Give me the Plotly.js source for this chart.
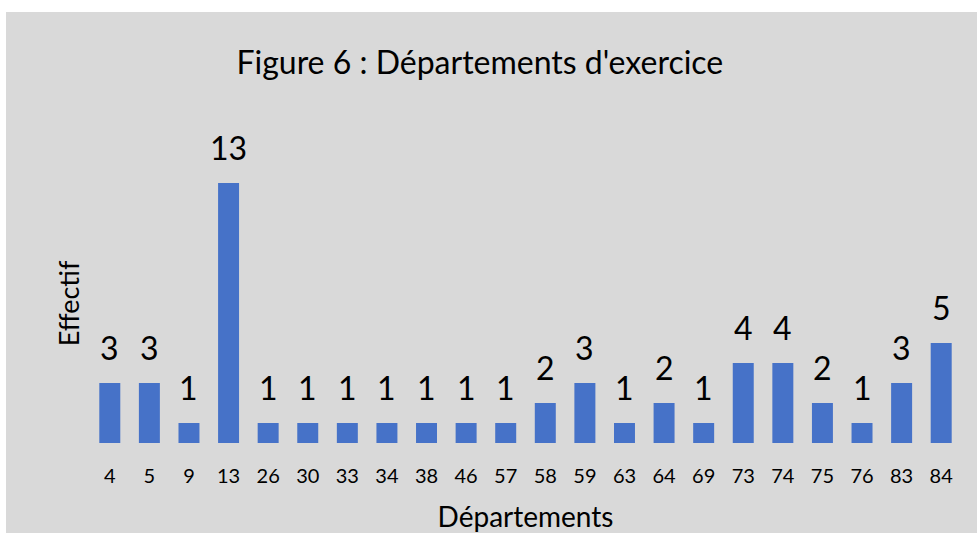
<!DOCTYPE html>
<html>
<head>
<meta charset="utf-8">
<script src="https://cdn.plot.ly/plotly-3.0.1.min.js"></script>
<style>
html,body{margin:0;padding:0;background:#ffffff;width:977px;height:533px;overflow:hidden;}
#chart{position:absolute;left:6px;top:12px;width:971px;height:521px;}
</style>
</head>
<body>
<div id="chart"></div>
<script>
const departements = ["4","5","9","13","26","30","33","34","38","46","57","58","59","63","64","69","73","74","75","76","83","84"];
const effectifs = [3,3,1,13,1,1,1,1,1,1,1,2,3,1,2,1,4,4,2,1,3,5];

const FONT = "Lato, 'Open Sans', sans-serif";

const trace = {
  type: "bar",
  x: departements,
  y: effectifs,
  marker: {color: "#4672c8", line: {width: 0}},
  hoverinfo: "x+y"
};

const annotations = departements.map((d, i) => ({
  x: i, y: effectifs[i], xref: "x", yref: "y",
  text: String(effectifs[i]), showarrow: false,
  yanchor: "bottom", yshift: 14,
  font: {family: FONT, size: 32, color: "#000000"}
}));

annotations.push({
  xref: "paper", yref: "paper", x: -0.025, y: 0.505,
  xanchor: "center", yanchor: "middle",
  text: "Effectif", textangle: -90, showarrow: false,
  font: {family: FONT, size: 27, color: "#000000"}
});

const layout = {
  width: 971, height: 521,
  margin: {l: 84, r: 16, t: 154, b: 90},
  paper_bgcolor: "#d9d9d9",
  plot_bgcolor: "#d9d9d9",
  bargap: 0.47,
  showlegend: false,
  title: {
    text: "Figure 6 : Départements d'exercice",
    font: {family: FONT, size: 32, color: "#000000"},
    x: 0.488, xanchor: "center", xref: "container",
    y: 0.902, yref: "container", yanchor: "middle"
  },
  xaxis: {
    type: "category",
    range: [-0.5, 21.5],
    tickmode: "array", tickvals: departements, ticktext: departements,
    showline: false, showgrid: false, zeroline: false,
    ticks: "", ticklabelstandoff: 19,
    tickfont: {family: FONT, size: 20, color: "#000000"},
    title: {text: "Départements", font: {family: FONT, size: 28, color: "#000000"}, standoff: 21}
  },
  yaxis: {
    range: [0, 13.85],
    visible: true, showticklabels: false, showgrid: false, zeroline: false, showline: false, ticks: ""
  },
  annotations: annotations
};

Plotly.newPlot("chart", [trace], layout, {displayModeBar: false, staticPlot: true});
</script>
</body>
</html>
